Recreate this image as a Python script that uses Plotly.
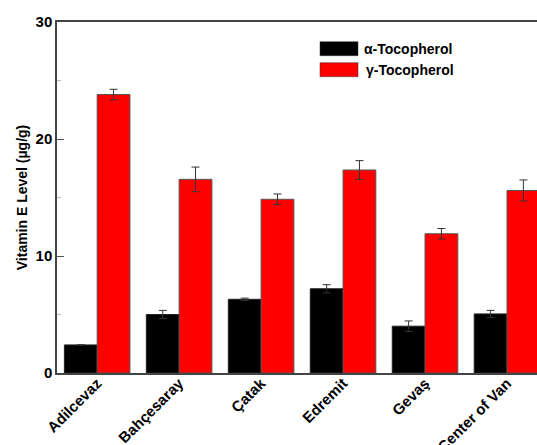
import plotly.graph_objects as go

regions = ["Adilcevaz", "Bahçesaray", "Çatak", "Edremit", "Gevaş", "Center of Van"]
alpha_toc = [2.4, 5.0, 6.3, 7.2, 4.0, 5.05]
alpha_err = [0.0, 0.35, 0.1, 0.35, 0.45, 0.3]
gamma_toc = [23.8, 16.55, 14.85, 17.35, 11.9, 15.6]
gamma_err = [0.45, 1.05, 0.45, 0.8, 0.45, 0.9]
series_names = ["α-Tocopherol", "γ-Tocopherol"]
y_ticks = [0, 10, 20, 30]

FONT = "Liberation Sans, Arial, sans-serif"

fig = go.Figure()
fig.add_trace(go.Bar(
    x=regions, y=alpha_toc, name=series_names[0],
    marker=dict(color="black", line=dict(color="#222", width=1)),
    error_y=dict(type="data", array=alpha_err, visible=True, color="#333", thickness=1, width=4),
    showlegend=False,
))
fig.add_trace(go.Bar(
    x=regions, y=gamma_toc, name=series_names[1],
    marker=dict(color="#ff0000", line=dict(color="#555", width=1)),
    error_y=dict(type="data", array=gamma_err, visible=True, color="#333", thickness=1, width=4),
    showlegend=False,
))

# custom legend
PH = 351.0
leg = [("black", series_names[0], (48.7 - 22) / PH, 364), ("#ff0000", series_names[1], (69.7 - 22) / PH, 366)]
for color, name, yy, tx in leg:
    fig.add_shape(type="rect", xref="paper", yref="paper",
                  x0=(320 - 57) / 480, x1=(358 - 57) / 480,
                  y0=1 - yy - 7 / PH, y1=1 - yy + 7 / PH,
                  fillcolor=color, line=dict(color="#333", width=0.5))
    fig.add_annotation(xref="paper", yref="paper", x=(tx - 57) / 480, y=1 - yy,
                       text="<b>%s</b>" % name, showarrow=False, xanchor="left", yanchor="middle",
                       xshift=-2, font=dict(family=FONT, size=14, color="black"))

fig.update_layout(
    width=537, height=445,
    margin=dict(l=57, r=0, t=22, b=72),
    paper_bgcolor="white", plot_bgcolor="white",
    barmode="group", bargap=0.2, bargroupgap=0,
    font=dict(family=FONT, color="black"),
)
fig.update_xaxes(
    range=[-0.49, 5.366], showline=True, linecolor="#444", linewidth=1.5, mirror=True,
    ticks="", tickangle=-45, automargin=False, ticklabelshift=0, ticklabelstandoff=-6,
    tickfont=dict(family=FONT, size=15, color="black", weight="bold"),
    showgrid=False,
)
fig.update_yaxes(
    range=[0, 30], tickvals=y_ticks, ticktext=["<b>%d</b>" % v for v in y_ticks],
    showline=True, linecolor="#444", linewidth=1.5, mirror=False, automargin=False,
    ticks="inside", ticklen=7, tickcolor="#555",
    minor=dict(dtick=5, ticks="inside", ticklen=4, tickcolor="#bbb", showgrid=False),
    tickfont=dict(family=FONT, size=15, color="black"),
    title=dict(text="<b>Vitamin E Level (µg/g)</b>", font=dict(family=FONT, size=14, color="black"), standoff=5),
    showgrid=False, zeroline=False,
)

fig.write_html("out.html", config={"displayModeBar": False},
               post_script="document.body.style.margin='0';document.body.style.overflow='hidden';")
